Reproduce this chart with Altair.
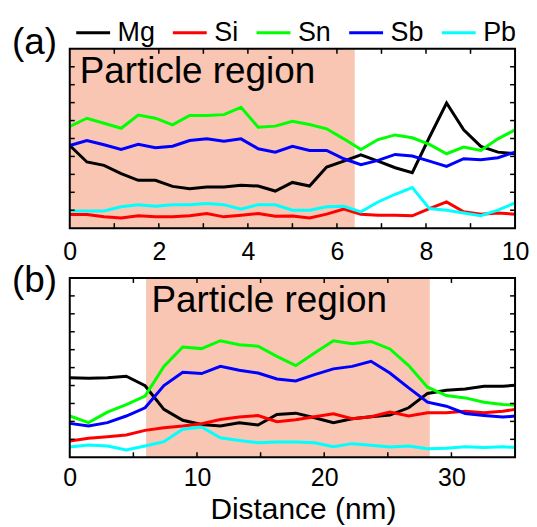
import altair as alt
import pandas as pd

FONT = "Liberation Sans"
W, H = 447, 180
TL = 5
SHADE = "#F8C6B2"

elements = ["Mg", "Si", "Sn", "Sb", "Pb"]
colors = ["#000000", "#FF0000", "#00FF00", "#0000FF", "#00FFFF"]

# ---------------- panel (a) ----------------
a_x = [0, 0.385, 0.769, 1.154, 1.538, 1.923, 2.308, 2.692, 3.077, 3.462, 3.846, 4.231, 4.615, 5.0,
       5.385, 5.769, 6.154, 6.538, 6.923, 7.308, 7.692, 8.077, 8.462, 8.846, 9.231, 9.615, 10.0]
a_Mg = [4.61, 3.69, 3.50, 3.04, 2.67, 2.67, 2.33, 2.20, 2.30, 2.30, 2.39, 2.35, 2.07, 2.55,
        2.35, 3.41, 3.74, 4.09, 3.74, 3.37, 3.09, 5.07, 6.98, 5.48, 4.56, 4.24, 4.15]
a_Si = [0.76, 0.76, 0.63, 0.57, 0.69, 0.63, 0.63, 0.69, 0.81, 0.63, 0.72, 0.81, 0.67, 0.68,
        0.57, 0.78, 1.06, 0.78, 0.72, 0.72, 0.69, 1.09, 1.46, 0.91, 0.78, 0.85, 0.78]
a_Sn = [5.67, 6.13, 5.85, 5.57, 6.31, 6.13, 5.76, 6.28, 6.28, 6.33, 6.74, 5.63, 5.69, 5.96,
        5.78, 5.54, 4.98, 4.39, 4.94, 5.20, 5.04, 4.67, 4.15, 4.52, 4.33, 4.98, 5.48]
a_Sb = [4.61, 4.89, 4.65, 4.39, 4.67, 4.48, 4.57, 4.89, 4.98, 4.85, 4.98, 4.43, 4.24, 4.56,
        4.33, 4.33, 3.87, 3.54, 3.78, 4.11, 4.02, 3.74, 3.44, 3.87, 3.81, 3.93, 4.24]
a_Pb = [0.96, 0.96, 0.96, 1.19, 1.31, 1.22, 1.30, 1.31, 1.37, 1.31, 1.06, 1.31, 1.30, 1.00,
        1.00, 1.19, 1.22, 0.91, 1.46, 1.89, 2.26, 1.09, 1.00, 0.85, 0.69, 1.00, 1.41]
a_region = [0, 6.4]
a_xlabels = [0, 2, 4, 6, 8, 10]
a_xticks = [1, 2, 3, 4, 5, 6, 7, 8, 9]
a_yticks = [1, 2, 3, 4, 5, 6, 7, 8, 9]

# ---------------- panel (b) ----------------
b_x = [0, 1.48, 2.96, 4.44, 5.92, 7.4, 8.88, 10.36, 11.84, 13.32, 14.8, 16.28, 17.76, 19.24,
       20.72, 22.2, 23.68, 25.16, 26.64, 28.12, 29.6, 31.08, 32.56, 34.04, 35]
b_Mg = [4.43, 4.41, 4.43, 4.52, 3.99, 2.67, 2.06, 1.83, 1.74, 1.93, 1.80, 2.39, 2.46, 2.20,
        1.93, 2.15, 2.26, 2.35, 2.76, 3.56, 3.74, 3.81, 3.96, 3.96, 4.02]
b_Si = [0.91, 1.06, 1.15, 1.24, 1.50, 1.65, 1.74, 1.87, 2.11, 2.24, 2.33, 1.98, 2.09, 2.26,
        2.43, 2.15, 2.26, 2.52, 2.30, 2.48, 2.48, 2.57, 2.48, 2.57, 2.67]
b_Sn = [2.30, 1.93, 2.52, 2.94, 3.41, 5.07, 6.15, 6.06, 6.50, 6.28, 6.19, 5.63, 5.11, 5.81,
        6.50, 6.33, 6.46, 6.04, 5.11, 3.91, 3.44, 3.31, 3.07, 2.94, 2.91]
b_Sb = [1.89, 1.74, 1.93, 2.30, 2.76, 4.00, 4.74, 4.67, 5.07, 4.85, 4.70, 4.37, 4.26, 4.61,
        4.93, 5.07, 5.35, 4.70, 3.87, 3.07, 2.85, 2.44, 2.33, 2.24, 2.30]
b_Pb = [0.57, 0.69, 0.63, 0.41, 0.63, 0.87, 1.56, 1.69, 1.09, 0.94, 0.81, 0.85, 0.85, 0.81,
        0.59, 0.76, 0.67, 0.57, 0.63, 0.48, 0.50, 0.59, 0.54, 0.59, 0.54]
b_region = [6.0, 28.3]
b_xlabels = [0, 10, 20, 30]
b_xticks = [5, 10, 15, 20, 25, 30]
b_yticks = [1, 2, 3, 4, 5, 6, 7, 8, 9]

region_text = "Particle region"
x_title = "Distance (nm)"


def long_df(xs, series):
    rows = []
    for el, vals in zip(elements, series):
        for xv, yv in zip(xs, vals):
            rows.append({"x": xv, "v": yv, "el": el})
    return pd.DataFrame(rows)


color_scale = alt.Scale(domain=elements, range=colors)
yscale = alt.Scale(domain=[0, 10], nice=False, zero=False)


def panel(xs, series, xdom, xlabels, region, xticks, yticks, tag, tag_y,
          text_x, title, label_pad, legend):
    xscale = alt.Scale(domain=xdom, nice=False, zero=False)
    if title:
        xaxis = alt.Axis(values=xlabels, title=title, labelPadding=label_pad,
                         titleX=234, titleY=61, titleBaseline="alphabetic")
    else:
        xaxis = alt.Axis(values=xlabels, title=None, labelPadding=label_pad)

    shade = alt.Chart(pd.DataFrame({"x": [region[0]], "x2": [region[1]]})).mark_rect(
        color=SHADE).encode(
        x=alt.X("x:Q", scale=xscale, axis=xaxis),
        x2="x2:Q",
        y=alt.value(0), y2=alt.value(H))

    lines = alt.Chart(long_df(xs, series)).mark_line(strokeWidth=3, clip=True).encode(
        x=alt.X("x:Q", scale=xscale, axis=xaxis),
        y=alt.Y("v:Q", scale=yscale, axis=None),
        color=alt.Color("el:N", scale=color_scale, sort=elements, legend=legend),
    )

    ydf = pd.DataFrame({"v": yticks})
    xdf = pd.DataFrame({"x": xticks})
    tick_style = dict(color="black", strokeWidth=1.5)
    left = alt.Chart(ydf).mark_rule(**tick_style).encode(
        y=alt.Y("v:Q", scale=yscale, axis=None), x=alt.value(0), x2=alt.value(TL))
    right = alt.Chart(ydf).mark_rule(**tick_style).encode(
        y=alt.Y("v:Q", scale=yscale, axis=None), x=alt.value(W - TL), x2=alt.value(W))
    bottom = alt.Chart(xdf).mark_rule(**tick_style).encode(
        x=alt.X("x:Q", scale=xscale, axis=xaxis), y=alt.value(H - TL), y2=alt.value(H))
    top = alt.Chart(xdf).mark_rule(**tick_style).encode(
        x=alt.X("x:Q", scale=xscale, axis=xaxis), y=alt.value(0), y2=alt.value(TL))

    frame = alt.Chart(pd.DataFrame({"f": [0]})).mark_rect(
        filled=False, stroke="black", strokeWidth=2).encode(
        x=alt.value(0), x2=alt.value(W), y=alt.value(0), y2=alt.value(H))

    rtext = alt.Chart(pd.DataFrame({"t": [region_text]})).mark_text(
        align="left", baseline="alphabetic", fontSize=37, font=FONT, color="black").encode(
        text="t:N", x=alt.value(text_x), y=alt.value(34))

    ttext = alt.Chart(pd.DataFrame({"t": [tag]})).mark_text(
        align="left", baseline="alphabetic", fontSize=37, font=FONT, color="black").encode(
        text="t:N", x=alt.value(-58), y=alt.value(tag_y))

    return alt.layer(shade, lines, left, right, bottom, top, frame, rtext, ttext).properties(
        width=W, height=H)


legend_a = alt.Legend(orient="none", legendX=5, legendY=-35, direction="horizontal",
                      columns=5, title=None, symbolType="stroke", symbolSize=1156,
                      symbolStrokeWidth=3, labelFontSize=27, labelFont=FONT,
                      labelOffset=6, columnPadding=11, padding=0, labelColor="black")

pa = panel(a_x, [a_Mg, a_Si, a_Sn, a_Sb, a_Pb], [0, 10], a_xlabels, a_region,
           a_xticks, a_yticks, "(a)", 5, 10, None, 11, legend_a)
pb = panel(b_x, [b_Mg, b_Si, b_Sn, b_Sb, b_Pb], [0, 35], b_xlabels, b_region,
           b_xticks, b_yticks, "(b)", 14, 82, x_title, 8, None)

chart = alt.vconcat(pa, pb, spacing=50, bounds="flush").resolve_legend(
    color="independent").configure(
    padding={"left": 4, "top": 5, "right": 0, "bottom": 0}, font=FONT
).configure_view(strokeWidth=0).configure_axis(
    labelFont=FONT, labelFontSize=25, labelColor="black", titleFont=FONT,
    titleFontSize=30, titleFontWeight="normal", titleColor="black",
    ticks=False, domain=False, grid=False, labelFlush=False, labelOverlap=False,
    labelBound=False)

chart.save("out.html", embed_options={"renderer": "svg", "actions": False})
